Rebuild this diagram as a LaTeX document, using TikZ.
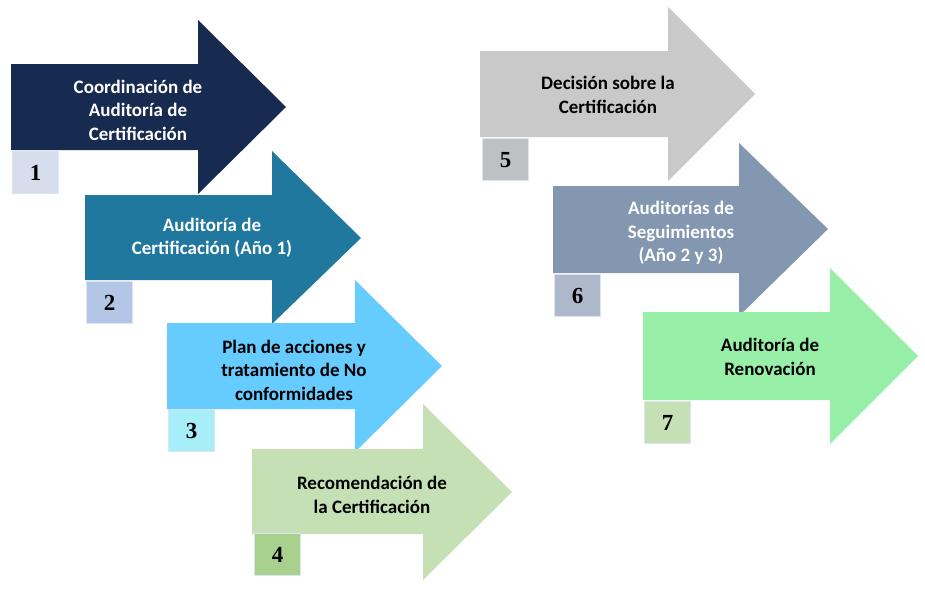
\documentclass[tikz,border=0pt]{standalone}
\usepackage{fontspec}
\setmainfont{Carlito}
\newfontfamily\numfont{Liberation Serif}
\definecolor{aone}{HTML}{172A50}
\definecolor{bone}{HTML}{D6DEEE}
\definecolor{atwo}{HTML}{21789F}
\definecolor{btwo}{HTML}{B4C6E6}
\definecolor{athree}{HTML}{66CBFE}
\definecolor{bthree}{HTML}{A8EEF8}
\definecolor{afour}{HTML}{C6E0B5}
\definecolor{bfour}{HTML}{A9D18E}
\definecolor{afive}{HTML}{C9C9C9}
\definecolor{bfive}{HTML}{BFC0C4}
\definecolor{asix}{HTML}{8497B0}
\definecolor{bsix}{HTML}{ADB9CB}
\definecolor{aseven}{HTML}{98F0A8}
\definecolor{bseven}{HTML}{C6E0B5}
\definecolor{boxline}{HTML}{DCE4F2}
\begin{document}
\begin{tikzpicture}[x=1pt,y=-1pt,
  lbl/.style={font=\fontsize{19}{23.5}\selectfont\bfseries, align=center, inner sep=0pt},
  numbox/.style={draw=boxline, line width=1.2pt, minimum width=46pt, minimum height=42pt,
    inner sep=0pt, anchor=north west, font=\numfont\fontsize{23}{23}\selectfont\bfseries}]
\useasboundingbox (0,0) rectangle (925,592);
\fill[white] (0,0) rectangle (925,592);
% arrow 1
\fill[aone] (11,64) -- (198,64) -- (198,20) -- (286,107) -- (198,194) -- (198,150) -- (11,150) -- cycle;
% arrow 2
\fill[atwo] (85,195) -- (272,195) -- (272,151) -- (361,238) -- (272,324) -- (272,280) -- (85,280) -- cycle;
% arrow 3
\fill[athree] (167,323) -- (355,323) -- (355,280) -- (442,366) -- (355,452) -- (355,409) -- (167,409) -- cycle;
% arrow 4
\fill[afour] (252,449) -- (423,449) -- (423,404) -- (512,492) -- (423,580) -- (423,534) -- (252,534) -- cycle;
% arrow 5
\fill[afive] (480,51) -- (668,51) -- (668,7) -- (755,94) -- (668,181) -- (668,137) -- (480,137) -- cycle;
% arrow 6
\fill[asix] (553,186) -- (739,186) -- (739,143) -- (828,229) -- (739,316) -- (739,273) -- (553,273) -- cycle;
% arrow 7
\fill[aseven] (643,312) -- (830,312) -- (830,268) -- (918,356) -- (830,444) -- (830,400) -- (643,400) -- cycle;
% labels
\node[lbl, text=white] (t1) at (138,110) {Coordinación de\\Auditoría de\\Certificación};
\node[lbl, text=white] (t2) at (212,238) {Auditoría de\\Certificación (Año 1)};
\node[lbl, text=black] (t3) at (294,370) {Plan de acciones y\\tratamiento de No\\conformidades};
\node[lbl, text=black] (t4) at (372,495) {Recomendación de\\la Certificación};
\node[lbl, text=black] (t5) at (608,95) {Decisión sobre la\\Certificación};
\node[lbl, text=white] (t6) at (681,233) {Auditorías de\\Seguimientos\\(Año 2 y 3)};
\node[lbl, text=black] (t7) at (770,357) {Auditoría de\\Renovación};
% number boxes
\node[numbox, fill=bone] (n1) at (12,151) {1};
\node[numbox, fill=btwo] (n2) at (86,281) {2};
\node[numbox, fill=bthree] (n3) at (168,409) {3};
\node[numbox, fill=bfour] (n4) at (254,533) {4};
\node[numbox, fill=bfive] (n5) at (482,138) {5};
\node[numbox, fill=bsix] (n6) at (554,274) {6};
\node[numbox, fill=bseven] (n7) at (644,401) {7};
\end{tikzpicture}
\end{document}
